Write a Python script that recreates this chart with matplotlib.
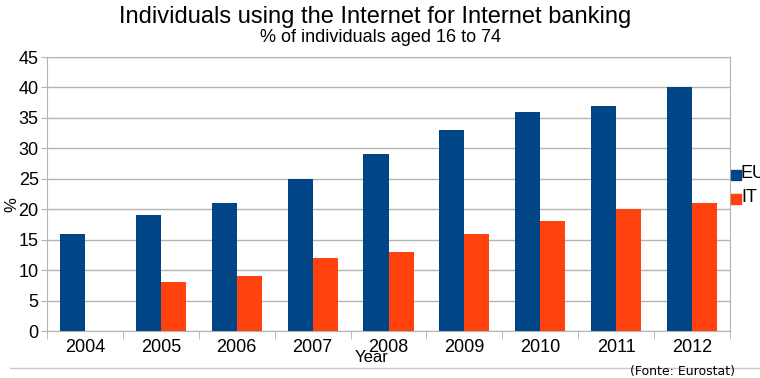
import numpy as np
import matplotlib.pyplot as plt
from matplotlib.lines import Line2D

years = ['2004', '2005', '2006', '2007', '2008', '2009', '2010', '2011', '2012']
eu = [16, 19, 21, 25, 29, 33, 36, 37, 40]
it = [np.nan, 8, 9, 12, 13, 16, 18, 20, 21]
yticks = [0, 5, 10, 15, 20, 25, 30, 35, 40, 45]

plt.rcParams['font.family'] = ['Liberation Sans Narrow', 'Liberation Sans', 'DejaVu Sans']

fig = plt.figure(figsize=(7.6, 3.78), dpi=100)
ax = fig.add_axes([47/760, 1 - 331/378, (730 - 47)/760, (331 - 57)/378])

x = np.arange(len(years))
w = 0.33
ax.bar(x - w/2, eu, width=w, color='#004586', zorder=3)
ax.bar(x + w/2, it, width=w, color='#ff420e', zorder=3)

ax.set_xlim(-0.5, len(years) - 0.5)
ax.set_ylim(0, 45)
ax.set_yticks(yticks)
ax.set_yticklabels([str(v) for v in yticks], fontsize=13)
ax.yaxis.grid(True, color='#b3b3b3', linewidth=1, zorder=0)
ax.set_xticks(x)
ax.set_xticklabels(years, fontsize=13)
ax.tick_params(axis='x', length=0, pad=6)
ax.tick_params(axis='y', length=4, color='#b3b3b3', pad=2)
ax.set_xticks(np.arange(-0.5, len(years)), minor=True)
ax.tick_params(axis='x', which='minor', length=6, color='#b3b3b3')
for s in ax.spines.values():
    s.set_color('#b3b3b3')

# axis titles placed by hand, like the reference
fig.text(12/760, 1 - 205/378, '%', fontsize=12, rotation=90, ha='center', va='center')
fig.text(372/760, 1 - 358/378, 'Year', fontsize=12, ha='center', va='center')

fig.text(375/760, 1 - 17/378, 'Individuals using the Internet for Internet banking',
         fontsize=17, ha='center', va='center')
fig.text(380/760, 1 - 38/378, '% of individuals aged 16 to 74',
         fontsize=13, ha='center', va='center')

# legend, partly cut at the right edge
fig.patches.append(plt.Rectangle((731/760, 1 - 180/378), 10/760, 10/378,
                                 transform=fig.transFigure, color='#004586'))
fig.patches.append(plt.Rectangle((731/760, 1 - 204/378), 10/760, 10/378,
                                 transform=fig.transFigure, color='#ff420e'))
fig.text(741/760, 1 - 174/378, 'EU', fontsize=13, ha='left', va='center')
fig.text(741/760, 1 - 198/378, 'IT', fontsize=13, ha='left', va='center')

fig.add_artist(Line2D([10/760, 1], [1 - 368/378, 1 - 368/378],
                     transform=fig.transFigure, color='#c8c8c8', linewidth=1))
fig.text(735/760, 1 - 371/378, '(Fonte: Eurostat)', fontsize=9, ha='right', va='center',
         family='DejaVu Sans', fontweight='medium')

fig.savefig('out.png', dpi=100)
